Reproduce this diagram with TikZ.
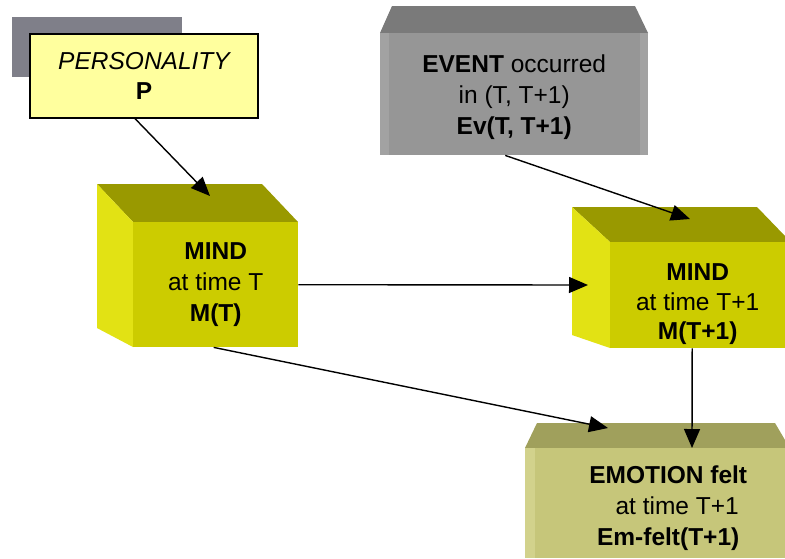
\documentclass[tikz,border=0pt]{standalone}
\usepackage{fontspec}
\setmainfont{Liberation Sans}
\usetikzlibrary{arrows.meta}
\definecolor{shadowgray}{HTML}{7F7F89}
\definecolor{persyellow}{HTML}{FFFF9E}
\definecolor{evfront}{HTML}{969696}
\definecolor{evtop}{HTML}{7A7A7A}
\definecolor{evside}{HTML}{A2A2A2}
\definecolor{mfront}{HTML}{CCCC00}
\definecolor{mtop}{HTML}{999900}
\definecolor{mleft}{HTML}{E2E214}
\definecolor{efront}{HTML}{C6C67A}
\definecolor{etop}{HTML}{A0A05C}
\definecolor{eleft}{HTML}{D2D28C}
\newcommand{\shiftdown}[2]{\raisebox{-#1}[\height][\depth]{#2}}
\tikzset{
  x=1pt, y=-1pt,
  txt/.style={font=\fontsize{24.5}{31}\selectfont, align=center, inner sep=0pt},
  facebox/.style={txt, anchor=north west},
  persbox/.style={txt, draw=black, line width=1.2pt, fill=persyellow},
  conn/.style={line width=1.4pt, -{Triangle[length=19pt,width=16pt]}},
}
\begin{document}
\begin{tikzpicture}
\useasboundingbox (0,0) rectangle (785,558);
\fill[white] (0,0) rectangle (785,558);
% PERSONALITY
\fill[shadowgray] (12,17) rectangle (182,77);
\node[persbox, minimum width=228pt, minimum height=84pt] (pers) at (144,76)
  {\itshape PERSONALITY\\[-1pt]\bfseries P};
% EVENT box
\fill[evtop] (392,6) -- (635,6) -- (648,33) -- (380,33) -- cycle;
\node[facebox, fill=evfront, minimum width=268pt, minimum height=122pt] (ev) at (380,33)
  {\shiftdown{3pt}{\begin{tabular}{@{}c@{}}\textbf{EVENT} occurred\\in (T, T+1)\\\textbf{Ev(T, T+1)}\end{tabular}}};
\fill[evside] (380,33) rectangle (389,155);
\fill[evside] (640,33) rectangle (648,155);
% MIND(T)
\fill[mtop] (97,184) -- (262,184) -- (298,222) -- (133,222) -- cycle;
\fill[mleft] (97,184) -- (133,222) -- (133,347) -- (97,328) -- cycle;
\node[facebox, fill=mfront, minimum width=165pt, minimum height=125pt] (mindT) at (133,222)
  {\begin{tabular}{@{}c@{}}\textbf{MIND}\\at time T\\\textbf{M(T)}\end{tabular}};
% MIND(T+1)
\fill[mtop] (572,207) -- (757,207) -- (785,236) -- (785,242) -- (610,242) -- cycle;
\fill[mleft] (572,207) -- (610,242) -- (610,348) -- (572,335) -- cycle;
\node[facebox, fill=mfront, minimum width=175pt, minimum height=106pt] (mindT1) at (610,242)
  {\shiftdown{9pt}{\fontsize{24.5}{29.5}\selectfont\begin{tabular}{@{}c@{}}\textbf{MIND}\\at time T+1\\\textbf{M(T+1)}\end{tabular}}};
% EMOTION
\fill[etop] (537,423) -- (775,423) -- (785,440) -- (785,448) -- (525,448) -- cycle;
\node[facebox, fill=efront, minimum width=260pt, minimum height=110pt] (emo) at (525,448)
  {\hspace*{26pt}\shiftdown{5pt}{\begin{tabular}{@{}c@{}}\textbf{EMOTION felt}\\\hspace*{18pt}at time T+1\\\textbf{Em-felt(T+1)}\end{tabular}}};
\fill[eleft] (525,448) rectangle (535,558);
% connector end points
\coordinate (pStart) at ([xshift=-9pt]pers.south);
\coordinate (pTip) at (210,196);
\coordinate (evStart) at ([xshift=-9pt]ev.south);
\coordinate (m1Tip) at (690,219);
\coordinate (m1Left) at (588,285);
\coordinate (mStart) at ([xshift=-2pt]mindT.south);
\coordinate (emTipA) at (608,428);
\coordinate (m1Start) at ([xshift=-5.5pt]mindT1.south);
\coordinate (emTipB) at (692,448);
% connectors
\draw[conn] (pStart) -- (pTip);
\draw[conn] (evStart) -- (m1Tip);
\draw[conn] (mindT.east) -- (m1Left);
\draw[conn] (mStart) -- (emTipA);
\draw[conn] (m1Start) -- (emTipB);
\end{tikzpicture}
\end{document}
